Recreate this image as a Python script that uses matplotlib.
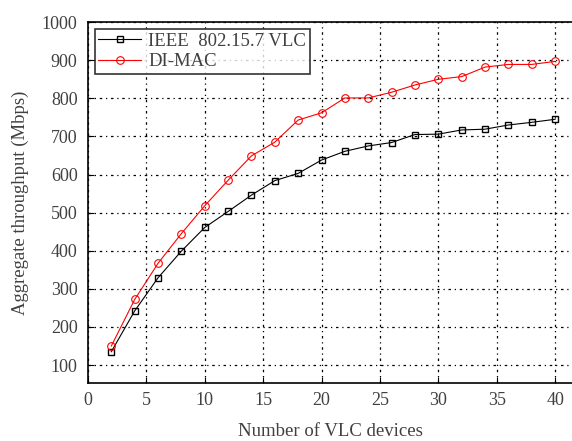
import matplotlib
matplotlib.use("Agg")
import matplotlib.pyplot as plt

devices = [2, 4, 6, 8, 10, 12, 14, 16, 18, 20, 22, 24, 26, 28, 30, 32, 34, 36, 38, 40]
ieee = [135, 242, 329, 399, 461, 503, 546, 584, 603, 638, 661, 675, 684, 705, 706, 717, 719, 730, 737, 745]
dimac = [150, 272, 367, 445, 518, 585, 649, 685, 743, 762, 801, 801, 816, 835, 850, 857, 882, 889, 889, 897]
xticks = [0, 5, 10, 15, 20, 25, 30, 35, 40]
yticks = [100, 200, 300, 400, 500, 600, 700, 800, 900, 1000]

plt.rcParams['font.family'] = ['Liberation Serif', 'DejaVu Serif']
txt = '#404040'

fig = plt.figure(figsize=(5.72, 4.41), dpi=100)
ax = fig.add_axes([0.1538, 0.1308, 0.8462, 0.819])

ax.plot(devices, ieee, color='black', marker='s', markersize=4.8, markerfacecolor='none',
        markeredgewidth=1.0, linewidth=0.8, label='IEEE  802.15.7 VLC')
ax.plot(devices, dimac, color='red', marker='o', markersize=5.5, markerfacecolor='none',
        markeredgewidth=0.8, linewidth=0.8, label='DI-MAC')

ax.set_xlim(0, 41.45)
ax.set_ylim(52, 1000)
ax.set_xticks(xticks)
ax.set_yticks(yticks)
ax.tick_params(axis='both', direction='in', length=4, labelsize=13, colors='black',
               labelcolor=txt)
ax.tick_params(axis='x', pad=6.5)
ax.tick_params(axis='y', pad=7.5)
ax.grid(True, color='black', linestyle=(0, (2, 3, 1, 3)), linewidth=0.9)

ax.spines['right'].set_visible(False)
for s in ['left', 'bottom', 'top']:
    ax.spines[s].set_linewidth(1.2)

ax.set_xlabel('Number of VLC devices', fontsize=13.5, color=txt, labelpad=10)
ax.set_ylabel('Aggregate throughput (Mbps)', fontsize=13.5, color=txt, labelpad=9)

leg = ax.legend(loc='upper left', fontsize=13.5, frameon=True, fancybox=False,
                edgecolor='black', borderpad=0.2, handlelength=2.3, handletextpad=0.35,
                labelspacing=0.2, borderaxespad=0.35)
leg.get_frame().set_linewidth(1.2)
for t in leg.get_texts():
    t.set_color(txt)

fig.savefig('out.png', dpi=100)
